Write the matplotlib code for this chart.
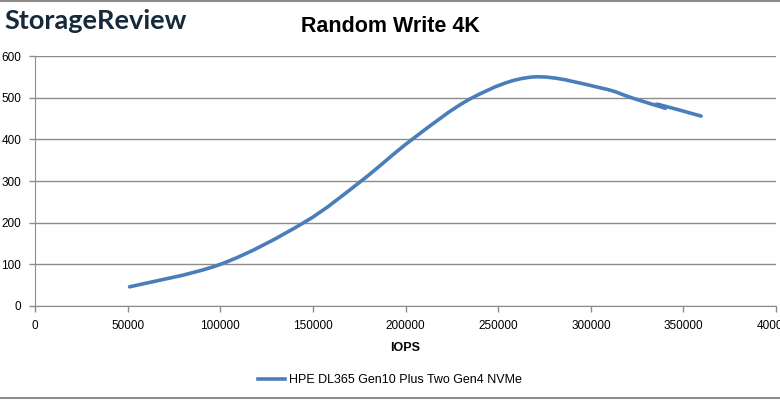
import matplotlib
matplotlib.use("Agg")
import matplotlib.pyplot as plt
import numpy as np
from matplotlib.path import Path
from matplotlib.patches import PathPatch
from matplotlib.lines import Line2D

# values
iops = [51000, 100000, 145000, 176000, 203500, 236000, 269000, 306000, 322000, 339500, 336500, 359500]
latency = [46, 100, 200, 300, 400, 500, 550, 523, 500, 476, 484, 456]
series_name = "HPE DL365 Gen10 Plus Two Gen4 NVMe"
x_ticks = [0, 50000, 100000, 150000, 200000, 250000, 300000, 350000, 400000]
y_ticks = [0, 100, 200, 300, 400, 500, 600]

LINE_COLOR = "#4a7ebb"
GRID = "#8c8c8c"
NARROW = ["Liberation Sans Narrow", "Liberation Sans", "DejaVu Sans"]


def smooth_path(xs, ys):
    # Excel-style smoothed line as cubic bezier segments
    pts = np.column_stack([xs, ys]).astype(float)
    n = len(pts)
    verts = [pts[0]]
    codes = [Path.MOVETO]
    for i in range(n - 1):
        p0 = pts[i - 1] if i > 0 else pts[i]
        p1 = pts[i]
        p2 = pts[i + 1]
        p3 = pts[i + 2] if i + 2 < n else pts[i + 1]
        c1 = p1 + (p2 - p0) / 6.0
        c2 = p2 - (p3 - p1) / 6.0
        verts += [c1, c2, p2]
        codes += [Path.CURVE4] * 3
    return Path(verts, codes)


fig = plt.figure(figsize=(7.8, 4.01), dpi=100)
ax = fig.add_axes([0.045, 0.237, 0.95, 0.623])

ax.add_patch(PathPatch(smooth_path(iops, latency), facecolor="none",
                       edgecolor=LINE_COLOR, lw=2.6, capstyle="round"))

ax.set_xlim(0, 400000)
ax.set_ylim(0, 600)
ax.set_xticks(x_ticks)
ax.set_yticks(y_ticks)
ax.set_xticklabels([str(v) for v in x_ticks], family=NARROW, fontsize=8.5)
ax.set_yticklabels([str(v) for v in y_ticks], family=NARROW, fontsize=8.5)
ax.tick_params(length=4, color=GRID, width=1, pad=6)
ax.grid(axis="y", color=GRID, lw=1)
ax.set_axisbelow(True)
for s in ["top", "right"]:
    ax.spines[s].set_visible(False)
for s in ["left", "bottom"]:
    ax.spines[s].set_color(GRID)

ax.set_xlabel("IOPS", fontsize=9, fontweight="bold", family=NARROW, labelpad=7)

handle = Line2D([0], [0], color=LINE_COLOR, lw=2.6)
fig.legend([handle], [series_name], loc="center", bbox_to_anchor=(0.5, 0.052),
           frameon=False, prop={"family": NARROW, "size": 9},
           handlelength=2.2, handletextpad=0.3)

fig.text(0.5, 0.935, "Random Write 4K", ha="center", va="center",
         fontsize=15.5, fontweight="bold", family=["Liberation Sans", "DejaVu Sans"])
fig.text(0.006, 0.948, "StorageReview", ha="left", va="center",
         fontsize=19.5, color="#16293a", family="Lato", fontweight="bold")

# thin frame lines at top and bottom of the image
fig.add_artist(Line2D([0, 1], [0.998, 0.998], color=GRID, lw=1.5))
fig.add_artist(Line2D([0, 1], [0.008, 0.008], color=GRID, lw=1.5))

fig.savefig("out.png", dpi=100)
